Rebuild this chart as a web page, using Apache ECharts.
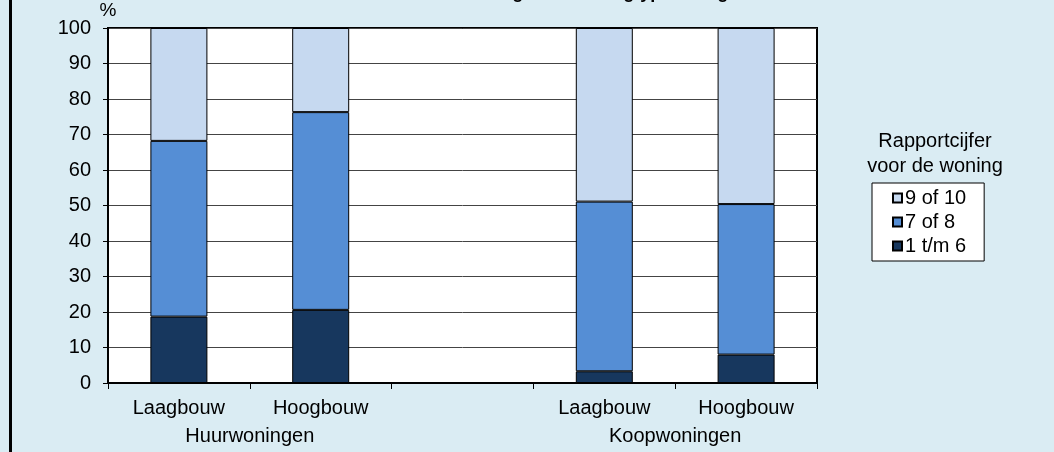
<!DOCTYPE html>
<html>
<head>
<meta charset="utf-8">
<script src="https://cdn.jsdelivr.net/npm/echarts@6/dist/echarts.min.js"></script>
<style>
    html, body { margin: 0; padding: 0; background: #daecf3; }
    #box-bar { width: 1054px; height: 452px; }
</style>
</head>
<body>
<div id="box-bar"></div>
<script>
const categories = ['Laagbouw', 'Hoogbouw', '', 'Laagbouw', 'Hoogbouw'];
const groupLabels = { 1: 'Huurwoningen', 4: 'Koopwoningen' };
const low = [18.7, 20.6, null, 3.3, 8.0];   // 1 t/m 6
const mid = [49.5, 55.7, null, 47.8, 42.4]; // 7 of 8
const high = [31.8, 23.7, null, 48.9, 49.6]; // 9 of 10
const legendNames = ['9 of 10', '7 of 8', '1 t/m 6'];

const font = 'Liberation Sans, Arial, sans-serif';

const initBar = () => {
    const charts = echarts.init(document.getElementById('box-bar'));
    const barStyle = (color) => ({
        color: color,
        borderColor: '#000',
        borderWidth: 1,
    });
    charts.setOption({
        backgroundColor: '#daecf3',
        animation: false,
        textStyle: { fontFamily: font },
        title: [
            {
                // bovenkant valt buiten beeld, alleen de staartjes zijn zichtbaar
                text: 'Tevredenheid met de woning naar woningtype en eigendom',
                left: 527,
                top: -21,
                textAlign: 'center',
                textStyle: { color: '#000', fontSize: 18, fontWeight: 'bold', fontFamily: font }
            },
            {
                text: 'Rapportcijfer\nvoor de woning',
                left: 930,
                top: 124,
                textAlign: 'center',
                textStyle: { color: '#000', fontSize: 20, fontWeight: 'normal', lineHeight: 25, fontFamily: font }
            }
        ],
        legend: {
            orient: 'vertical',
            left: 872,
            top: 183,
            data: legendNames,
            icon: 'rect',
            backgroundColor: '#fff',
            borderColor: '#000',
            borderWidth: 1,
            padding: [5, 18, 5, 20],
            itemWidth: 9,
            itemHeight: 9,
            itemGap: 4,
            textStyle: { color: '#000', fontSize: 20, fontFamily: font, padding: [0, 0, 0, -2] },
        },
        graphic: [
            { type: 'rect', shape: { x: 9, y: 0, width: 3, height: 452 }, style: { fill: '#000' } }
        ],
        grid: {
            left: 108,
            right: 237,
            top: 28,
            bottom: 69,
            show: true,
            backgroundColor: '#fff',
            borderColor: '#000',
            borderWidth: 2,
        },
        xAxis: [
            {
                type: 'category',
                data: categories,
                axisLine: { lineStyle: { color: '#000', width: 2 } },
                axisTick: { show: true, length: 6, lineStyle: { color: '#000' } },
                axisLabel: { color: '#000', fontSize: 20, margin: 15, interval: 0 },
            },
            {
                type: 'value',
                position: 'bottom',
                min: 0,
                max: 5,
                interval: 1,
                axisLine: { show: false },
                axisTick: { show: false },
                splitLine: { show: false },
                axisLabel: {
                    color: '#000',
                    fontSize: 20,
                    margin: 43,
                    showMinLabel: true,
                    showMaxLabel: true,
                    formatter: function (value) {
                        return groupLabels[value] || '';
                    }
                },
            }
        ],
        yAxis: {
            type: 'value',
            min: 0,
            max: 100,
            interval: 10,
            name: '%',
            nameGap: 8,
            nameTextStyle: { color: '#000', fontSize: 19, fontFamily: font, padding: [0, 0, 0, 0] },
            axisLine: { show: true, lineStyle: { color: '#000', width: 2 } },
            axisTick: { show: true, length: 5, lineStyle: { color: '#000' } },
            axisLabel: { color: '#000', fontSize: 20, margin: 17 },
            splitLine: { lineStyle: { color: '#444', width: 1 } },
        },
        series: [
            {
                name: '1 t/m 6',
                type: 'bar',
                stack: 'totaal',
                barWidth: 57,
                data: low,
                itemStyle: barStyle('#17375e'),
            },
            {
                name: '7 of 8',
                type: 'bar',
                stack: 'totaal',
                barWidth: 57,
                data: mid,
                itemStyle: barStyle('#558ed5'),
            },
            {
                name: '9 of 10',
                type: 'bar',
                stack: 'totaal',
                barWidth: 57,
                data: high,
                itemStyle: barStyle('#c6d9f0'),
            }
        ]
    });
};

initBar();
</script>
</body>
</html>
